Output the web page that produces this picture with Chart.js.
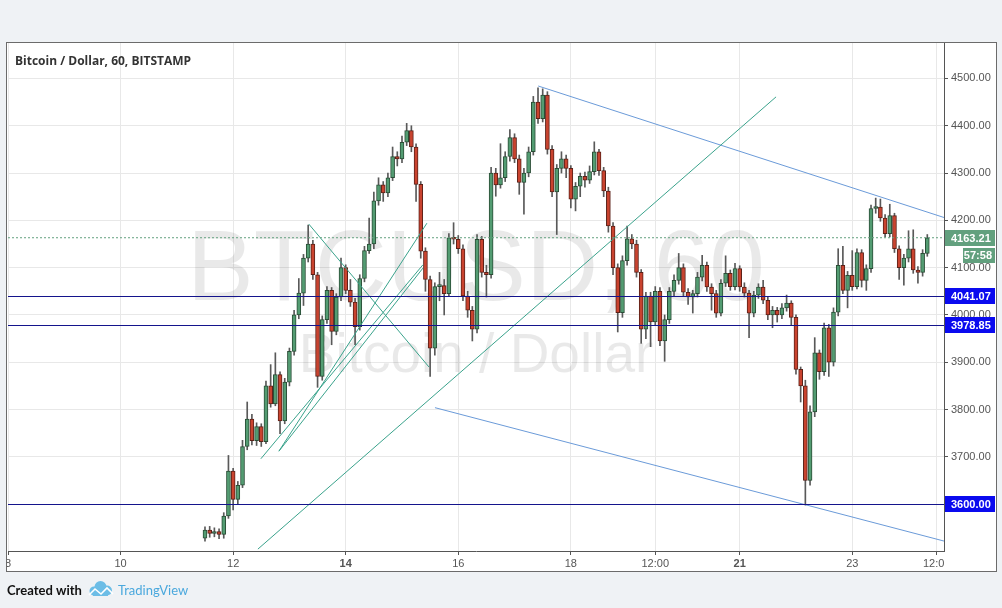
<!DOCTYPE html>
<html>
<head>
<meta charset="utf-8">
<script src="https://cdn.jsdelivr.net/npm/chart.js@4.4.1/dist/chart.umd.min.js"></script>
<style>
  html, body { margin: 0; padding: 0; background: #eff2f5; overflow: hidden; }
  canvas { display: block; }
</style>
</head>
<body>
<canvas id="chart" width="1002" height="608"></canvas>
<script>
/* Bitcoin / Dollar, 2h candles; x = day of month */
const startDay = 11.5;
const stepDay = 2 / 24;
const firstOpen = 3528;

const closes = [
  3545, 3538, 3542, 3536, 3575, 3670, 3610, 3640, 3722, 3780,
  3734, 3764, 3732, 3850, 3812, 3874, 3776, 3858, 3923, 4000,
  4046, 4120, 4150, 4085, 3870, 3990, 4052, 3965, 4038, 4100,
  4052, 4027, 3975, 4077, 4136, 4150, 4241, 4275, 4258, 4290,
  4335, 4330, 4365, 4390, 4355, 4276, 4135, 4075, 3930, 4060,
  4062, 4045, 4163, 4160, 4140, 4040, 4010, 3970, 4160, 4090,
  4085, 4300, 4275, 4290, 4335, 4375, 4330, 4280, 4300, 4345,
  4450, 4415, 4465, 4350, 4260, 4310, 4330, 4310, 4245, 4272,
  4293, 4285, 4303, 4345, 4305, 4262, 4188, 4100, 4005, 4115,
  4161, 4150, 4090, 3970, 4040, 3985, 4050, 3945, 3990, 4050,
  4073, 4100, 4048, 4038, 4045, 4080, 4105, 4059, 4045, 4004,
  4067, 4088, 4060, 4098, 4059, 4046, 4004, 4042, 4059, 4031,
  4000, 4010, 4000, 4015, 4025, 3995, 3885, 3850, 3650, 3795,
  3920, 3880, 3973, 3900, 4006, 4105, 4052, 4084, 4060, 4132,
  4073, 4098, 4225, 4228, 4205, 4172, 4210, 4140, 4100, 4120,
  4140, 4095, 4090, 4130, 4163.21
];
const highs = [
  3552, 3553, 3550, 3548, 3582, 3703, 3676, 3648, 3735, 3816,
  3790, 3772, 3770, 3860, 3895, 3920, 3880, 3866, 3930, 4010,
  4077, 4128, 4190, 4158, 4090, 3998, 4060, 4058, 4045, 4120,
  4106, 4075, 4035, 4085, 4145, 4205, 4260, 4290, 4282, 4300,
  4355, 4345, 4378, 4405, 4400, 4362, 4282, 4142, 4082, 4068,
  4090, 4075, 4172, 4195, 4168, 4148, 4050, 4018, 4170, 4166,
  4105, 4312, 4310, 4362, 4345, 4392, 4383, 4338, 4310, 4355,
  4462, 4480, 4478, 4472, 4358, 4318, 4345, 4338, 4316, 4280,
  4300, 4302, 4315, 4366, 4350, 4312, 4270, 4195, 4108, 4125,
  4188, 4170, 4158, 4096, 4048, 4048, 4060, 4058, 4000, 4058,
  4085, 4130, 4108, 4056, 4052, 4090, 4126, 4112, 4066, 4052,
  4075, 4125, 4095, 4109, 4104, 4068, 4052, 4050, 4066, 4073,
  4038, 4018, 4016, 4024, 4042, 4030, 4000, 3890, 3862, 3808,
  3952, 3926, 3983, 3980, 4015, 4140, 4145, 4092, 4136, 4140,
  4138, 4106, 4232, 4247, 4245, 4212, 4234, 4215, 4146, 4128,
  4178, 4180, 4102, 4138, 4170
];
const lows = [
  3522, 3530, 3531, 3527, 3528, 3570, 3588, 3600, 3635, 3715,
  3725, 3724, 3722, 3728, 3805, 3808, 3749, 3770, 3850, 3915,
  3992, 4020, 4112, 4075, 3847, 3862, 3982, 3937, 3958, 4030,
  4045, 4018, 3937, 3968, 4070, 4130, 4140, 4232, 4240, 4250,
  4284, 4315, 4322, 4358, 4345, 4240, 4120, 4050, 3870, 3915,
  4030, 4000, 4040, 4150, 4130, 4030, 3995, 3945, 3962, 4080,
  4038, 4078, 4251, 4268, 4282, 4325, 4322, 4255, 4213, 4292,
  4338, 4405, 4408, 4340, 4250, 4170, 4300, 4290, 4226, 4220,
  4250, 4270, 4278, 4296, 4295, 4250, 4175, 4085, 3964, 3995,
  4105, 4140, 4080, 3940, 3950, 3933, 3978, 3935, 3902, 3982,
  4040, 4065, 4040, 4022, 4004, 4038, 4072, 4050, 4010, 3995,
  3998, 4060, 4052, 4053, 4050, 4038, 3952, 3996, 4035, 4024,
  3990, 3973, 3985, 3992, 4008, 3978, 3875, 3816, 3598, 3640,
  3785, 3864, 3872, 3870, 3892, 3998, 4045, 4015, 4052, 4055,
  4059, 4052, 4090, 4215, 4198, 4165, 4165, 4132, 4075, 4063,
  4112, 4088, 4067, 4082, 4124
];

const xTicks = [8, 10, 12, 14, 16, 18, 19.5, 21, 23, 24.5];
const xTickLabels = ["8", "10", "12", "14", "16", "18", "12:00", "21", "23", "12:00"];
const boldTicks = [14, 21];
const yTicks = [3600, 3700, 3800, 3900, 4000, 4100, 4200, 4300, 4400, 4500];

const levels = [4041.07, 3978.85, 3600.00];
const lastPrice = 4163.21;
const countdown = "57:58";

// drawn trend lines: [[day, price], [day, price]]
const tealLines = [
  [[12.44, 3505], [21.646, 4461]],
  [[13.345, 4192], [15.479, 3890]],
  [[12.813, 3712], [15.443, 4194]],
  [[12.813, 3712], [15.372, 4099]],
  [[12.493, 3696], [15.372, 4106]]
];
const channelLines = [
  [[17.42, 4484], [24.63, 4206]],
  [[15.586, 3804], [24.63, 3522]]
];

const X_MIN = 8, X_MAX = 24.63, Y_MIN = 3501, Y_MAX = 4577;

const UP = "#539c72", UP_EDGE = "#2a4d36";
const DOWN = "#c9432f", DOWN_EDGE = "#5b2118";
const TEAL = "#3aa38c", CHANNEL = "#6b9bd9", LEVEL = "#14148c";
const PRICE_GREEN = "#62a07e", LEVEL_BOX = "#0a0aef";

const candles = closes.map((c, i) => ({
  t: startDay + i * stepDay,
  o: i ? closes[i - 1] : firstOpen,
  c: c,
  h: highs[i],
  l: lows[i]
}));

function lineSet(pts, color, dash) {
  return {
    type: "line",
    data: pts.map(p => ({ x: p[0], y: p[1] })),
    borderColor: color,
    borderWidth: 1,
    borderDash: dash || [],
    pointRadius: 0,
    tension: 0,
    order: 1
  };
}

const datasets = [
  {
    type: "bar",
    data: candles.map(k => ({ x: k.t, y: [k.l, k.h] })),
    backgroundColor: "#595959",
    barThickness: 1,
    grouped: false,
    order: 3
  },
  {
    type: "bar",
    data: candles.map(k => ({ x: k.t, y: [k.o, k.c] })),
    backgroundColor: candles.map(k => (k.c >= k.o ? UP : DOWN)),
    borderColor: candles.map(k => (k.c >= k.o ? UP_EDGE : DOWN_EDGE)),
    borderWidth: 1,
    borderSkipped: false,
    barThickness: 4,
    minBarLength: 2,
    grouped: false,
    order: 2
  },
  lineSet([[X_MIN, lastPrice], [X_MAX, lastPrice]], PRICE_GREEN, [2, 2])
];
tealLines.forEach(l => datasets.push(lineSet(l, TEAL)));
channelLines.forEach(l => datasets.push(lineSet(l, CHANNEL)));

const decor = {
  id: "decor",
  beforeDraw(chart) {
    const ctx = chart.ctx;
    ctx.save();
    ctx.fillStyle = "#eff2f5";
    ctx.fillRect(0, 0, chart.width, chart.height);
    ctx.fillStyle = "#ffffff";
    ctx.fillRect(6, 42, 990, 529);
    ctx.restore();
  },
  beforeDatasetsDraw(chart) {
    const ctx = chart.ctx, a = chart.chartArea;
    const cx = (a.left + a.right) / 2;
    ctx.save();
    ctx.beginPath();
    ctx.rect(a.left, a.top, a.right - a.left, a.bottom - a.top);
    ctx.clip();
    ctx.fillStyle = "rgba(0,0,0,0.085)";
    ctx.textAlign = "center";
    ctx.textBaseline = "alphabetic";
    ctx.font = "100px 'Liberation Sans', Arial, sans-serif";
    ctx.fillText("BTCUSD, 60", cx, 300);
    ctx.font = "55px 'Liberation Sans', Arial, sans-serif";
    ctx.fillText("Bitcoin / Dollar", cx, 372);
    ctx.restore();
  },
  afterDatasetsDraw(chart) {
    // horizontal levels, snapped to whole pixels
    const ctx = chart.ctx, a = chart.chartArea, ys = chart.scales.y;
    ctx.save();
    ctx.strokeStyle = LEVEL;
    ctx.lineWidth = 1;
    levels.forEach(v => {
      const y = Math.round(ys.getPixelForValue(v)) + 0.5;
      ctx.beginPath();
      ctx.moveTo(a.left, y);
      ctx.lineTo(a.right, y);
      ctx.stroke();
    });
    ctx.restore();
  },
  afterDraw(chart) {
    const ctx = chart.ctx, a = chart.chartArea;
    const xs = chart.scales.x, ys = chart.scales.y;
    ctx.save();

    // frame
    ctx.strokeStyle = "#6b6b6b";
    ctx.lineWidth = 1;
    ctx.strokeRect(6.5, 42.5, 990, 529);

    // title
    ctx.fillStyle = "#333";
    ctx.font = "bold 12px 'Open Sans', sans-serif";
    ctx.textAlign = "left";
    ctx.textBaseline = "alphabetic";
    ctx.fillText("Bitcoin / Dollar, 60, BITSTAMP", 15, 65);

    // time labels
    ctx.save();
    ctx.beginPath();
    ctx.rect(7, a.bottom + 1, a.right - 7, 19);
    ctx.clip();
    ctx.fillStyle = "#555";
    ctx.textAlign = "center";
    xTicks.forEach((v, i) => {
      ctx.font = (boldTicks.includes(v) ? "bold " : "") + "11px 'Liberation Sans', Arial, sans-serif";
      ctx.fillText(xTickLabels[i], xs.getPixelForValue(v), a.bottom + 16);
    });
    ctx.restore();

    // price boxes
    function box(v, text, color, left) {
      const y = Math.round(ys.getPixelForValue(v));
      ctx.fillStyle = color;
      ctx.fillRect(left, y - 8, 995 - left, 16);
      ctx.fillStyle = "#fff";
      ctx.font = "bold 11px 'Liberation Sans', Arial, sans-serif";
      ctx.textAlign = "left";
      ctx.textBaseline = "middle";
      ctx.fillText(text, left + 6, y + 0.5);
    }
    levels.forEach(v => box(v, v.toFixed(2), LEVEL_BOX, a.right + 1));
    box(lastPrice, lastPrice.toFixed(2), PRICE_GREEN, a.right + 1);
    const cy = Math.round(ys.getPixelForValue(lastPrice)) + 17;
    ctx.fillStyle = PRICE_GREEN;
    ctx.fillRect(963, cy - 7, 32, 15);
    ctx.fillStyle = "#fff";
    ctx.textAlign = "right";
    ctx.fillText(countdown, 992, cy + 0.5);

    // footer
    ctx.textBaseline = "alphabetic";
    ctx.textAlign = "left";
    ctx.fillStyle = "#111";
    ctx.font = "bold 13px Lato, sans-serif";
    ctx.fillText("Created with", 7, 595);
    ctx.fillStyle = "#6cbde6";
    ctx.beginPath();
    ctx.arc(94, 591, 4.5, 0, Math.PI * 2);
    ctx.arc(100.5, 587, 6, 0, Math.PI * 2);
    ctx.arc(107, 590.5, 5, 0, Math.PI * 2);
    ctx.fill();
    ctx.fillRect(93, 590, 15, 6);
    ctx.strokeStyle = "#fff";
    ctx.lineWidth = 1.6;
    ctx.beginPath();
    ctx.moveTo(89, 595);
    ctx.lineTo(95, 589);
    ctx.lineTo(101, 594);
    ctx.lineTo(107, 588);
    ctx.lineTo(113, 594);
    ctx.stroke();
    ctx.fillStyle = "#4aa8dd";
    ctx.font = "13px Lato, sans-serif";
    ctx.fillText("TradingView", 118, 595);
    ctx.restore();
  }
};

new Chart(document.getElementById("chart"), {
  type: "bar",
  data: { datasets: datasets },
  options: {
    responsive: false,
    animation: false,
    devicePixelRatio: 1,
    events: [],
    layout: { padding: { left: 8, top: 42, right: 6, bottom: 37 } },
    plugins: { legend: { display: false }, tooltip: { enabled: false } },
    scales: {
      x: {
        type: "linear",
        min: X_MIN, max: X_MAX,
        offset: false,
        afterBuildTicks: s => { s.ticks = xTicks.map(v => ({ value: v })); },
        afterFit: s => { s.height = 20; },
        ticks: { display: false },
        grid: { color: "#e8e8e8", tickColor: "#555", tickLength: 4, offset: false },
        border: { color: "#555" }
      },
      y: {
        type: "linear",
        position: "right",
        min: Y_MIN, max: Y_MAX,
        afterBuildTicks: s => { s.ticks = yTicks.map(v => ({ value: v })); },
        afterFit: s => { s.width = 52; },
        ticks: {
          color: "#555",
          padding: 3,
          font: { family: "'Liberation Sans', Arial, sans-serif", size: 11 },
          callback: v => v.toFixed(2)
        },
        grid: { color: "#e8e8e8", tickColor: "#555", tickLength: 4 },
        border: { color: "#555" }
      }
    }
  },
  plugins: [decor]
});
</script>
</body>
</html>
